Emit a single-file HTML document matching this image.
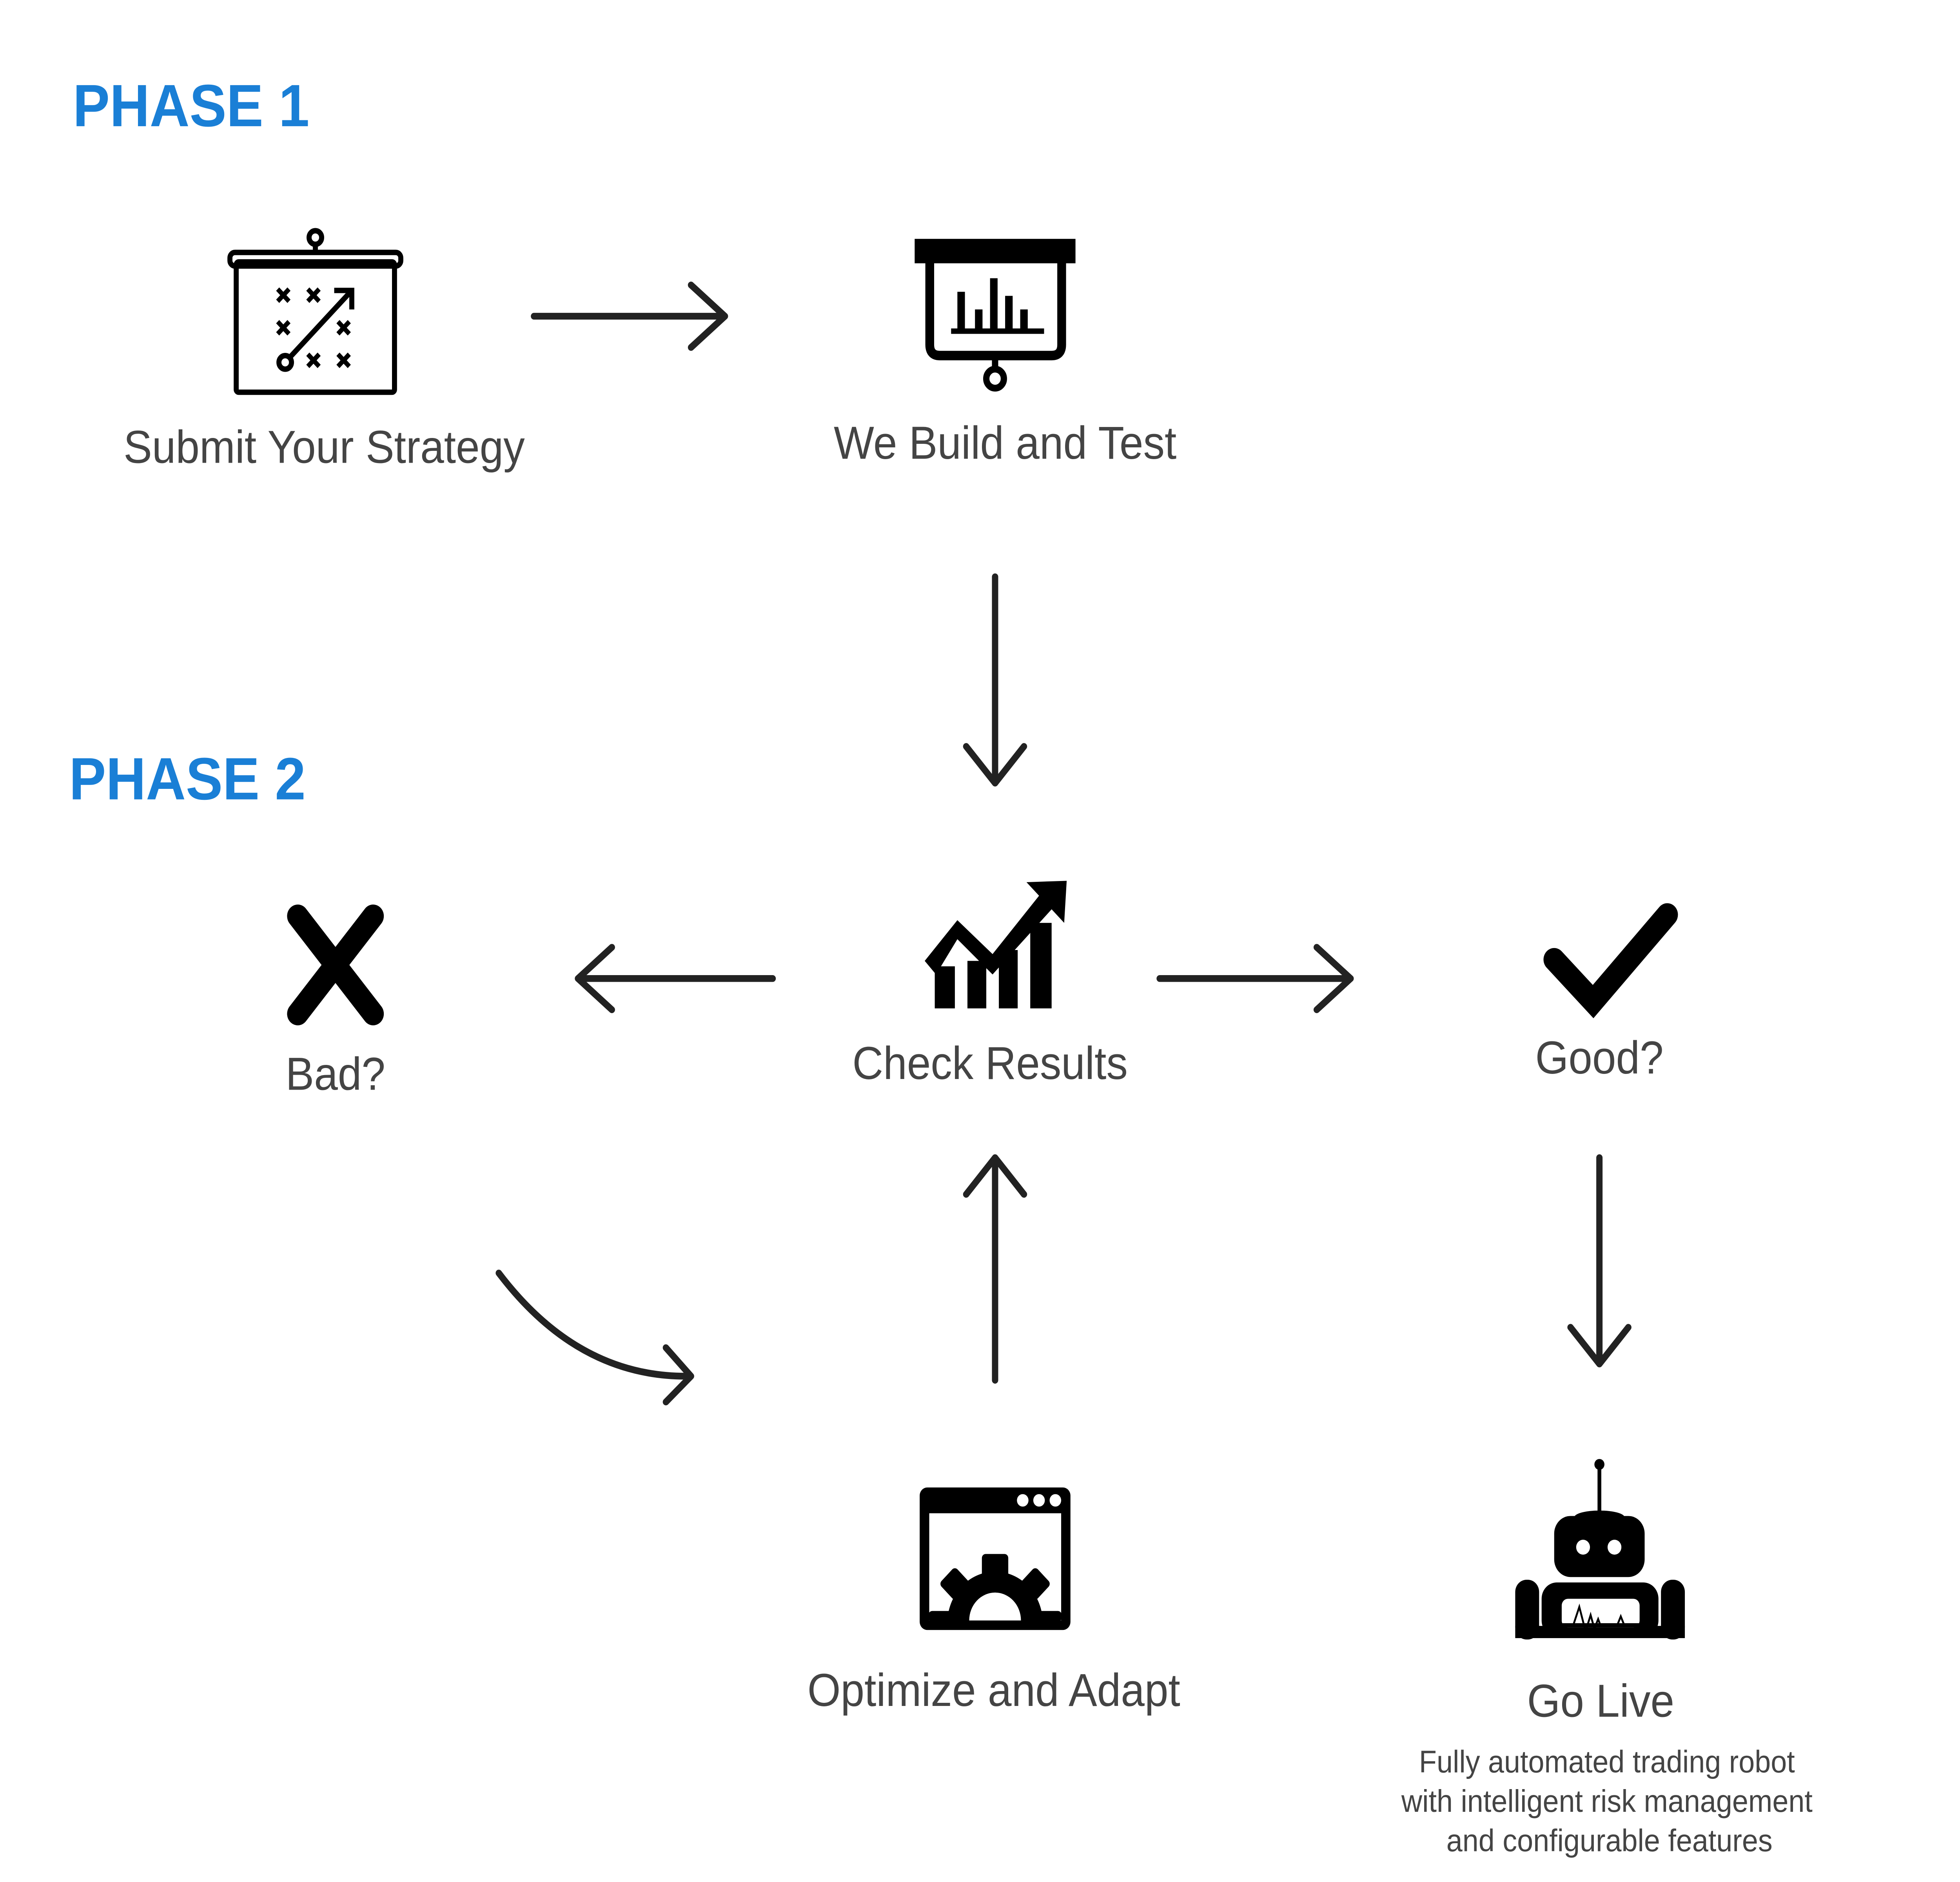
<!DOCTYPE html>
<html><head><meta charset="utf-8"><style>html,body{margin:0;padding:0;background:#fff;overflow:hidden}svg{display:block;width:100vw;height:100vh}</style></head>
<body>
<svg viewBox="0 0 1560 1386.7" preserveAspectRatio="none" xmlns="http://www.w3.org/2000/svg">
<defs><clipPath id="gc"><rect x="739" y="1115" width="106" height="79"/></clipPath></defs>
<rect width="1560" height="1387" fill="#fff"/>
<g font-family="Liberation Sans, sans-serif" font-weight="bold" fill="#1a7fd6" font-size="44">
<text x="58" y="93">PHASE 1</text>
<text x="55" y="589">PHASE 2</text>
</g>
<g font-family="Liberation Sans, sans-serif" fill="#444" font-size="34" text-anchor="middle">
<text x="258" y="341">Submit Your Strategy</text>
<text x="800" y="338">We Build and Test</text>
<text x="267" y="803">Bad?</text>
<text x="788" y="795">Check Results</text>
<text x="1273" y="791">Good?</text>
<text x="791" y="1257">Optimize and Adapt</text>
<text x="1274" y="1265">Go Live</text>
<g font-size="23"><text x="1279" y="1306">Fully automated trading robot</text><text x="1279" y="1335">with intelligent risk management</text><text x="1281" y="1364">and configurable features</text></g>
</g>
<g stroke="#222" stroke-width="5" fill="none" stroke-linecap="round" stroke-linejoin="round">
<path d="M425 233H577M550 210L577 233L550 256"/>
<path d="M792 425V577M769 550L792 577L815 550"/>
<path d="M615 721H460M487 698L460 721L487 744"/>
<path d="M923 721H1075M1048 698L1075 721L1048 744"/>
<path d="M1273 853V1005M1250 978L1273 1005L1296 978"/>
<path d="M792 1017V853M769 880L792 853L815 880"/>
<path d="M397 938Q460 1015 548 1014M530 993L550 1014L530 1033"/>
</g>
<g stroke="#000" fill="none" stroke-width="4">
<rect x="188" y="193" width="126" height="96" rx="2"/>
<rect x="183" y="186" width="136" height="10" rx="4"/>
<circle cx="251" cy="175" r="5"/>
<line x1="251" y1="180" x2="251" y2="186"/>
<circle cx="227" cy="267" r="5"/>
<path d="M231 263L279 215M266 214H280V228"/>
<g stroke-width="3.5"><path d="M221 213l9 9M230 213l-9 9M245 213l9 9M254 213l-9 9M221 237l9 9M230 237l-9 9M269 237l9 9M278 237l-9 9M245 261l9 9M254 261l-9 9M269 261l9 9M278 261l-9 9"/></g>
</g>
<rect x="728" y="176" width="128" height="18" fill="#000"/>
<path d="M740 194V254Q740 262 748 262H837Q845 262 845 254V194" stroke="#000" stroke-width="7" fill="none"/>
<g fill="#000"><rect x="757" y="242" width="74" height="4"/><rect x="762" y="215" width="6" height="28"/><rect x="776" y="228" width="6" height="15"/><rect x="788" y="205" width="6" height="38"/><rect x="800" y="218" width="6" height="25"/><rect x="812" y="228" width="6" height="15"/></g>
<line x1="792" y1="262" x2="792" y2="272" stroke="#000" stroke-width="5"/>
<circle cx="792" cy="279" r="7" stroke="#000" stroke-width="5" fill="#fff"/>
<g fill="#000"><rect x="744" y="712" width="16" height="31"/><rect x="770" y="708" width="15" height="35"/><rect x="795" y="700" width="15" height="43"/><rect x="820" y="680" width="17" height="63"/>
<path d="M849 649L847 680L837 670L790 718L762 692L745 718L736 708L762 678L790 703L827 660L817 650Z"/></g>
<path d="M237 675L297 747M297 675L237 747" stroke="#000" stroke-width="17" stroke-linecap="round"/>
<path d="M1237 707L1268 738L1327 674" stroke="#000" stroke-width="17" stroke-linecap="round" fill="none"/>
<rect x="732" y="1096" width="120" height="105" rx="6" fill="#000"/>
<rect x="739.6" y="1115" width="105" height="79" fill="#fff"/>
<g fill="#fff"><circle cx="814" cy="1105.5" r="4.6"/><circle cx="827" cy="1105.5" r="4.6"/><circle cx="840" cy="1105.5" r="4.6"/></g>
<g fill="#000" clip-path="url(#gc)">
<rect x="781.5" y="1145" width="21" height="18" rx="3"/>
<circle cx="792" cy="1196" r="38"/>
<rect x="751" y="1158" width="18" height="18" rx="3" transform="rotate(45 760 1167)"/>
<rect x="815" y="1158" width="18" height="18" rx="3" transform="rotate(45 824 1167)"/>
<rect x="739" y="1187" width="106" height="8" rx="3"/>
</g>
<path d="M771.4 1194A20.6 20.6 0 0 1 812.6 1194Z" fill="#fff"/>
<g fill="#000">
<circle cx="1273" cy="1079" r="4"/><rect x="1271.5" y="1080" width="3" height="36"/>
<rect x="1237" y="1117" width="72" height="45" rx="13"/><ellipse cx="1273" cy="1118" rx="20" ry="5"/>
<rect x="1206" y="1164" width="19" height="44" rx="9"/><rect x="1322" y="1164" width="19" height="44" rx="9"/>
<rect x="1227" y="1166" width="93" height="40" rx="12"/>
<rect x="1206" y="1198" width="135" height="9"/>
</g>
<g fill="#fff"><circle cx="1260" cy="1140" r="5.5"/><circle cx="1285" cy="1140" r="5.5"/>
<rect x="1243" y="1178" width="62" height="21" rx="5"/></g>
<rect x="1243" y="1196" width="62" height="3" fill="#000"/>
<polyline points="1243,1198 1252,1198 1257,1184 1262,1202 1266,1190 1269,1200 1272,1193 1274,1198 1287,1198 1290,1191 1293,1198 1304,1198" fill="none" stroke="#000" stroke-width="1.5"/>
</svg>
</body></html>
